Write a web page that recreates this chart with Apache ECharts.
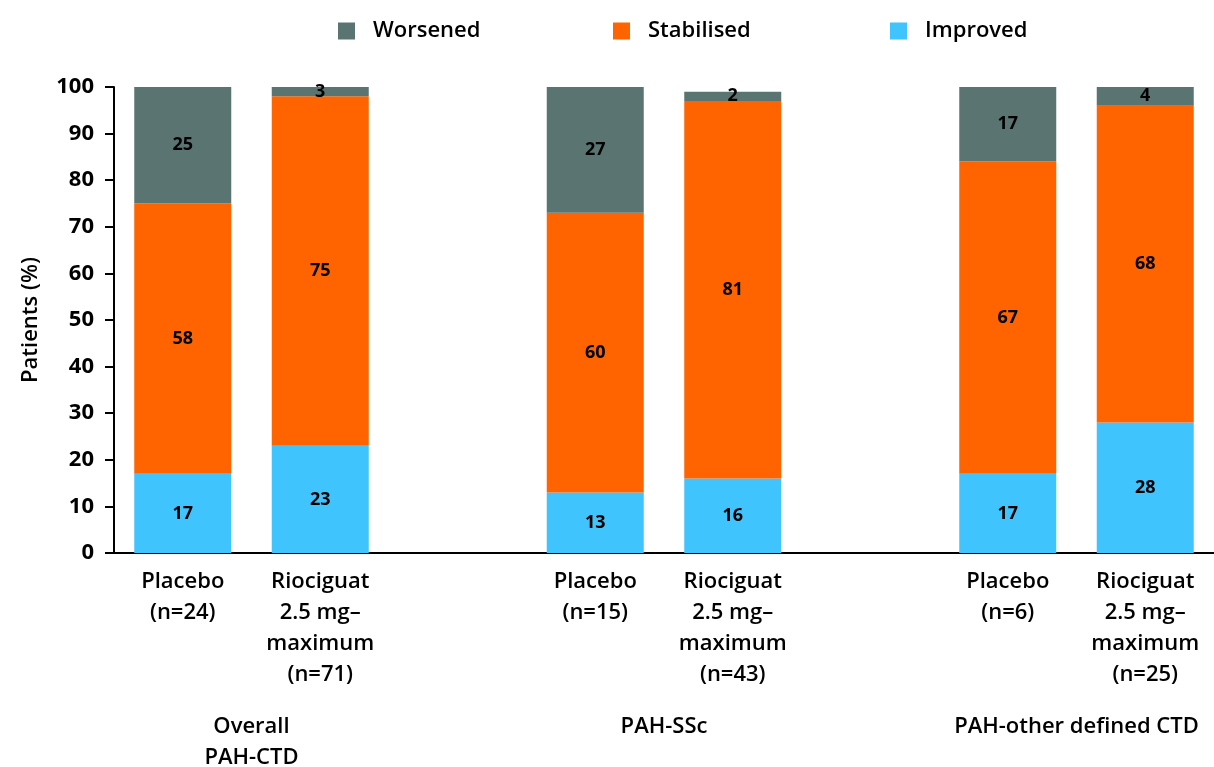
<!DOCTYPE html>
<html>
<head>
<meta charset="utf-8">
<title>Patients by outcome, PAH-CTD subgroups</title>
<script src="https://cdn.jsdelivr.net/npm/echarts@6/dist/echarts.min.js"></script>
<style>
  html, body { margin: 0; padding: 0; background: #ffffff; }
  #chart { width: 1214px; height: 767px; }
</style>
</head>
<body>
<div id="chart"></div>
<script>
// Bar slots; empty strings are spacer slots between the subgroups
const categories = [
  'Placebo\n(n=24)', 'Riociguat\n2.5 mg–\nmaximum\n(n=71)', '',
  'Placebo\n(n=15)', 'Riociguat\n2.5 mg–\nmaximum\n(n=43)', '',
  'Placebo\n(n=6)', 'Riociguat\n2.5 mg–\nmaximum\n(n=25)'
];
const groups = ['Overall\nPAH-CTD', 'PAH-SSc', 'PAH-other defined CTD'];

// Patients (%) per outcome
const improved   = [17, 23, null, 13, 16, null, 17, 28];
const stabilised = [58, 75, null, 60, 81, null, 67, 68];
const worsened   = [25, 3,  null, 27, 2,  null, 17, 4];

const yTicks = [0, 10, 20, 30, 40, 50, 60, 70, 80, 90, 100];

const FONT = '"Open Sans", "Noto Sans", sans-serif';
const COLORS = { worsened: '#5a7472', stabilised: '#ff6400', improved: '#40c4fd' };

const chart = echarts.init(document.getElementById('chart'), null, { renderer: 'canvas' });

const valueLabel = {
  show: true,
  position: 'inside',
  color: '#000',
  fontFamily: FONT,
  fontWeight: 'bold',
  fontSize: 18
};

function barSeries(name, data, color) {
  return {
    name: name,
    type: 'bar',
    stack: 'total',
    data: data,
    barWidth: 97,
    clip: true,
    itemStyle: { color: color },
    label: valueLabel,
    emphasis: { disabled: true }
  };
}

// one legend entry per block, spaced evenly across the top
function legendItem(name, left) {
  return {
    data: [name],
    left: left,
    top: 20,
    padding: 0,
    itemWidth: 17,
    itemHeight: 17,
    icon: 'rect',
    selectedMode: false,
    textStyle: {
      fontFamily: FONT, fontSize: 22, fontWeight: 600, color: '#000',
      padding: [0, 0, 0, 13]
    }
  };
}

chart.setOption({
  animation: false,
  backgroundColor: '#ffffff',
  legend: [
    legendItem('Worsened', 338),
    legendItem('Stabilised', 613),
    legendItem('Improved', 890)
  ],
  grid: { left: 114, right: 0, top: 87, bottom: 214, outerBoundsMode: 'none' },
  xAxis: {
    type: 'category',
    data: categories,
    axisLine: { show: true, lineStyle: { color: '#000', width: 2 } },
    axisTick: { show: false },
    axisLabel: {
      interval: 0,
      margin: 13,
      color: '#000',
      fontFamily: FONT,
      fontSize: 22,
      fontWeight: 600,
      lineHeight: 31
    }
  },
  yAxis: {
    type: 'value',
    min: yTicks[0],
    max: yTicks[yTicks.length - 1],
    interval: yTicks[1] - yTicks[0],
    name: 'Patients (%)',
    nameLocation: 'middle',
    nameRotate: 90,
    nameGap: 72,
    nameTextStyle: { fontFamily: FONT, fontSize: 22, fontWeight: 600, color: '#000' },
    axisLine: { show: true, lineStyle: { color: '#000', width: 2 } },
    axisTick: { show: true, inside: false, length: 9, lineStyle: { color: '#000', width: 2 } },
    splitLine: { show: false },
    axisLabel: {
      margin: 20,
      color: '#000',
      fontFamily: FONT,
      fontSize: 22,
      fontWeight: 'bold'
    }
  },
  series: [
    barSeries('Improved', improved, COLORS.improved),
    barSeries('Stabilised', stabilised, COLORS.stabilised),
    barSeries('Worsened', worsened, COLORS.worsened)
  ]
});

// Subgroup titles, centred under each pair of bars, placed through the axis scale
const baseY = chart.convertToPixel({ yAxisIndex: 0 }, yTicks[0]);
chart.setOption({
  graphic: groups.map((g, i) => {
    const a = chart.convertToPixel({ xAxisIndex: 0 }, categories[i * 3]);
    const b = chart.convertToPixel({ xAxisIndex: 0 }, categories[i * 3 + 1]);
    return {
      type: 'text',
      x: (a + b) / 2,
      y: baseY + 158,
      style: {
        text: g,
        align: 'center',
        verticalAlign: 'top',
        fill: '#000',
        font: '600 22px ' + FONT,
        lineHeight: 31
      },
      silent: true
    };
  })
});
</script>
</body>
</html>
